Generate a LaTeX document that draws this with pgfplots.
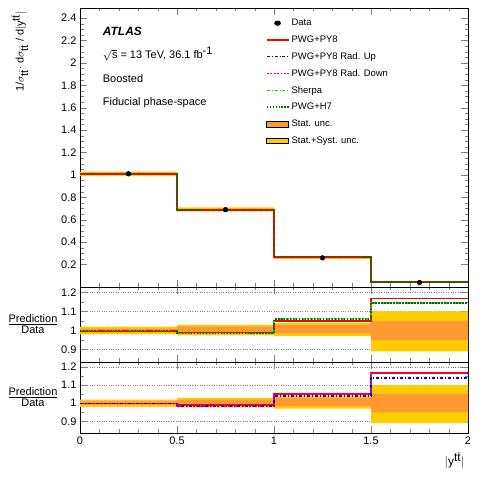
\documentclass[border=0pt]{standalone}
\usepackage{pgfplots}
\pgfplotsset{compat=1.18}
\usepackage{fontspec}
\setmainfont{Liberation Sans}
\definecolor{oran}{RGB}{255,153,51}
\definecolor{yel}{RGB}{255,204,0}
\definecolor{sher}{RGB}{30,210,30}
\definecolor{hgreen}{RGB}{0,110,0}
\pgfplotsset{
 base/.style={scale only axis, width=388bp, xmin=0, xmax=2, ticklabel style={font=\fontsize{11}{12}\selectfont},
   /pgf/number format/assume math mode=true, tick align=inside, xtick pos=both, ytick pos=both,
   minor x tick num=4, minor y tick num=4, xtick={0,0.5,1,1.5,2}, major tick length=7bp, minor tick length=3.5bp,
   axis line style={line width=0.6pt}, clip=true},
 rat/.style={base, ymin=0.835, ymax=1.228, ytick={0.9,1,1.1,1.2}, yticklabels={0.9,1,1.1,1.2},
   minor y tick num=1, ymajorgrids, grid style={dotted, gray}},
 py8/.style={red, line width=1.6pt, const plot},
 up/.style={blue, line width=1.6pt, dash pattern=on 3pt off 2pt on 1pt off 2pt, const plot},
 dn/.style={magenta, line width=1.6pt, dash pattern=on 2pt off 1.5pt, const plot},
 sh/.style={sher, line width=1.6pt, dash pattern=on 3pt off 2pt on 1pt off 2pt, const plot},
 h7/.style={hgreen, line width=2pt, dash pattern=on 1.5pt off 1.5pt, const plot},
}
\begin{document}
\begin{tikzpicture}[x=1bp,y=1bp]
\path (0,0) rectangle (495,480);
% top panel
\begin{axis}[base, at={(80bp,193bp)}, height=279bp, ymin=0, ymax=2.49,
  ytick={0.2,0.4,...,2.41}, yticklabels={0.2,0.4,0.6,0.8,1,1.2,1.4,1.6,1.8,2,2.2,2.4}, xticklabels={},
  minor y tick num=3,
  legend style={at={(0.47,0.975)}, anchor=north west, draw=none, fill=none, font=\fontsize{9.5}{10}\selectfont, row sep=4.6pt},
  legend image post style={xscale=1.3},
  legend cell align=left]
\addplot[fill=yel, draw=none, forget plot] coordinates {(0,0.99)(0.5,0.99)(0.5,0.672)(1,0.672)(1,0.25)(1.5,0.25)(1.5,0.036)(2,0.036)(2,0.044)(1.5,0.044)(1.5,0.27)(1,0.27)(1,0.71)(0.5,0.71)(0.5,1.03)(0,1.03)} --cycle;
\addplot[fill=oran, draw=none, forget plot] coordinates {(0,1.0)(0.5,1.0)(0.5,0.68)(1,0.68)(1,0.255)(1.5,0.255)(1.5,0.038)(2,0.038)(2,0.042)(1.5,0.042)(1.5,0.265)(1,0.265)(1,0.70)(0.5,0.70)(0.5,1.02)(0,1.02)} --cycle;
\addplot[up, forget plot] coordinates {(0,1.01)(0.5,0.685)(1,0.268)(1.5,0.046)(2,0.046)};
\addplot[dn, forget plot] coordinates {(0,1.01)(0.5,0.685)(1,0.268)(1.5,0.046)(2,0.046)};
\addplot[sh, forget plot] coordinates {(0,1.01)(0.5,0.685)(1,0.268)(1.5,0.046)(2,0.046)};
\addplot[py8, forget plot] coordinates {(0,1.01)(0.5,0.685)(1,0.268)(1.5,0.046)(2,0.046)};
\addplot[h7, forget plot] coordinates {(0,1.01)(0.5,0.685)(1,0.268)(1.5,0.046)(2,0.046)};
\addplot[only marks, mark=*, mark size=2.4pt, black, forget plot] coordinates {(0.25,1.01)(0.75,0.69)(1.25,0.26)(1.75,0.04)};
\addlegendimage{only marks, mark=*, mark size=2.4pt, black}
\addlegendimage{red, line width=1.6pt}
\addlegendimage{up}
\addlegendimage{dn}
\addlegendimage{sh}
\addlegendimage{h7}
\addlegendimage{area legend, fill=oran, draw=none}
\addlegendimage{area legend, fill=yel, draw=none}
\legend{Data,PWG+PY8,PWG+PY8 Rad. Up,PWG+PY8 Rad. Down,Sherpa,PWG+H7,Stat. unc.,Stat.+Syst. unc.}
\node[anchor=west, font=\fontsize{12}{14}\selectfont\bfseries\itshape] at (axis description cs:0.05,0.915) {ATLAS};
\node[anchor=west, font=\fontsize{11}{13}\selectfont] at (axis description cs:0.05,0.835) {$\sqrt{\textrm{s}}$ = 13 TeV, 36.1 fb$^{\textrm{-1}}$};
\node[anchor=west, font=\fontsize{11}{13}\selectfont] at (axis description cs:0.05,0.748) {Boosted};
\node[anchor=west, font=\fontsize{11}{13}\selectfont] at (axis description cs:0.05,0.66) {Fiducial phase-space};
\end{axis}
\node[rotate=90, anchor=north east, font=\fontsize{11}{13}\selectfont] at (8,472) {1/$\sigma_{\textrm{t}\bar{\textrm{t}}}\cdot$ d$\sigma_{\textrm{t}\bar{\textrm{t}}}$ / d$|$y$^{\textrm{t}\bar{\textrm{t}}}|$};
% ratio 1
\begin{axis}[rat, at={(80bp,118bp)}, height=75bp, xticklabels={}]
\addplot[fill=yel, draw=none] coordinates {(0,0.98)(0.5,0.98)(0.5,0.975)(1,0.975)(1,0.97)(1.5,0.97)(1.5,0.89)(2,0.89)(2,1.10)(1.5,1.10)(1.5,1.04)(1,1.04)(1,1.03)(0.5,1.03)(0.5,1.02)(0,1.02)} --cycle;
\addplot[fill=oran, draw=none] coordinates {(0,0.99)(0.5,0.99)(0.5,0.985)(1,0.985)(1,0.985)(1.5,0.985)(1.5,0.95)(2,0.95)(2,1.05)(1.5,1.05)(1.5,1.03)(1,1.03)(1,1.02)(0.5,1.02)(0.5,1.01)(0,1.01)} --cycle;
\addplot[py8] coordinates {(0,0.998)(0.5,0.99)(1,1.05)(1.5,1.168)(2,1.168)};
\addplot[sh] coordinates {(0,1.0)(0.5,0.985)(1,1.06)(1.5,1.145)(2,1.145)};
\addplot[h7] coordinates {(0,1.0)(0.5,0.985)(1,1.06)(1.5,1.145)(2,1.145)};
\end{axis}
\node[font=\fontsize{11}{12}\selectfont, align=center] at (33,156) {\underline{Prediction}\\[-1pt]Data};
% ratio 2
\begin{axis}[rat, at={(80bp,47bp)}, height=71bp, xticklabels={0,0.5,1,1.5,2},
  xlabel={$|$y$^{\textrm{t}\bar{\textrm{t}}}|$}, xlabel style={font=\fontsize{12}{14}\selectfont, at={(axis description cs:1,0)}, anchor=north east, yshift=-16bp}]
\addplot[fill=yel, draw=none] coordinates {(0,0.98)(0.5,0.98)(0.5,0.975)(1,0.975)(1,0.97)(1.5,0.97)(1.5,0.89)(2,0.89)(2,1.10)(1.5,1.10)(1.5,1.04)(1,1.04)(1,1.03)(0.5,1.03)(0.5,1.02)(0,1.02)} --cycle;
\addplot[fill=oran, draw=none] coordinates {(0,0.99)(0.5,0.99)(0.5,0.985)(1,0.985)(1,0.985)(1.5,0.985)(1.5,0.95)(2,0.95)(2,1.05)(1.5,1.05)(1.5,1.03)(1,1.03)(1,1.02)(0.5,1.02)(0.5,1.01)(0,1.01)} --cycle;
\addplot[py8] coordinates {(0,0.998)(0.5,0.99)(1,1.05)(1.5,1.168)(2,1.168)};
\addplot[dn] coordinates {(0,0.998)(0.5,0.985)(1,1.048)(1.5,1.165)(2,1.165)};
\addplot[up] coordinates {(0,0.998)(0.5,0.985)(1,1.04)(1.5,1.14)(2,1.14)};
\end{axis}
\node[font=\fontsize{11}{12}\selectfont, align=center] at (33,83) {\underline{Prediction}\\[-1pt]Data};
\end{tikzpicture}
\end{document}
